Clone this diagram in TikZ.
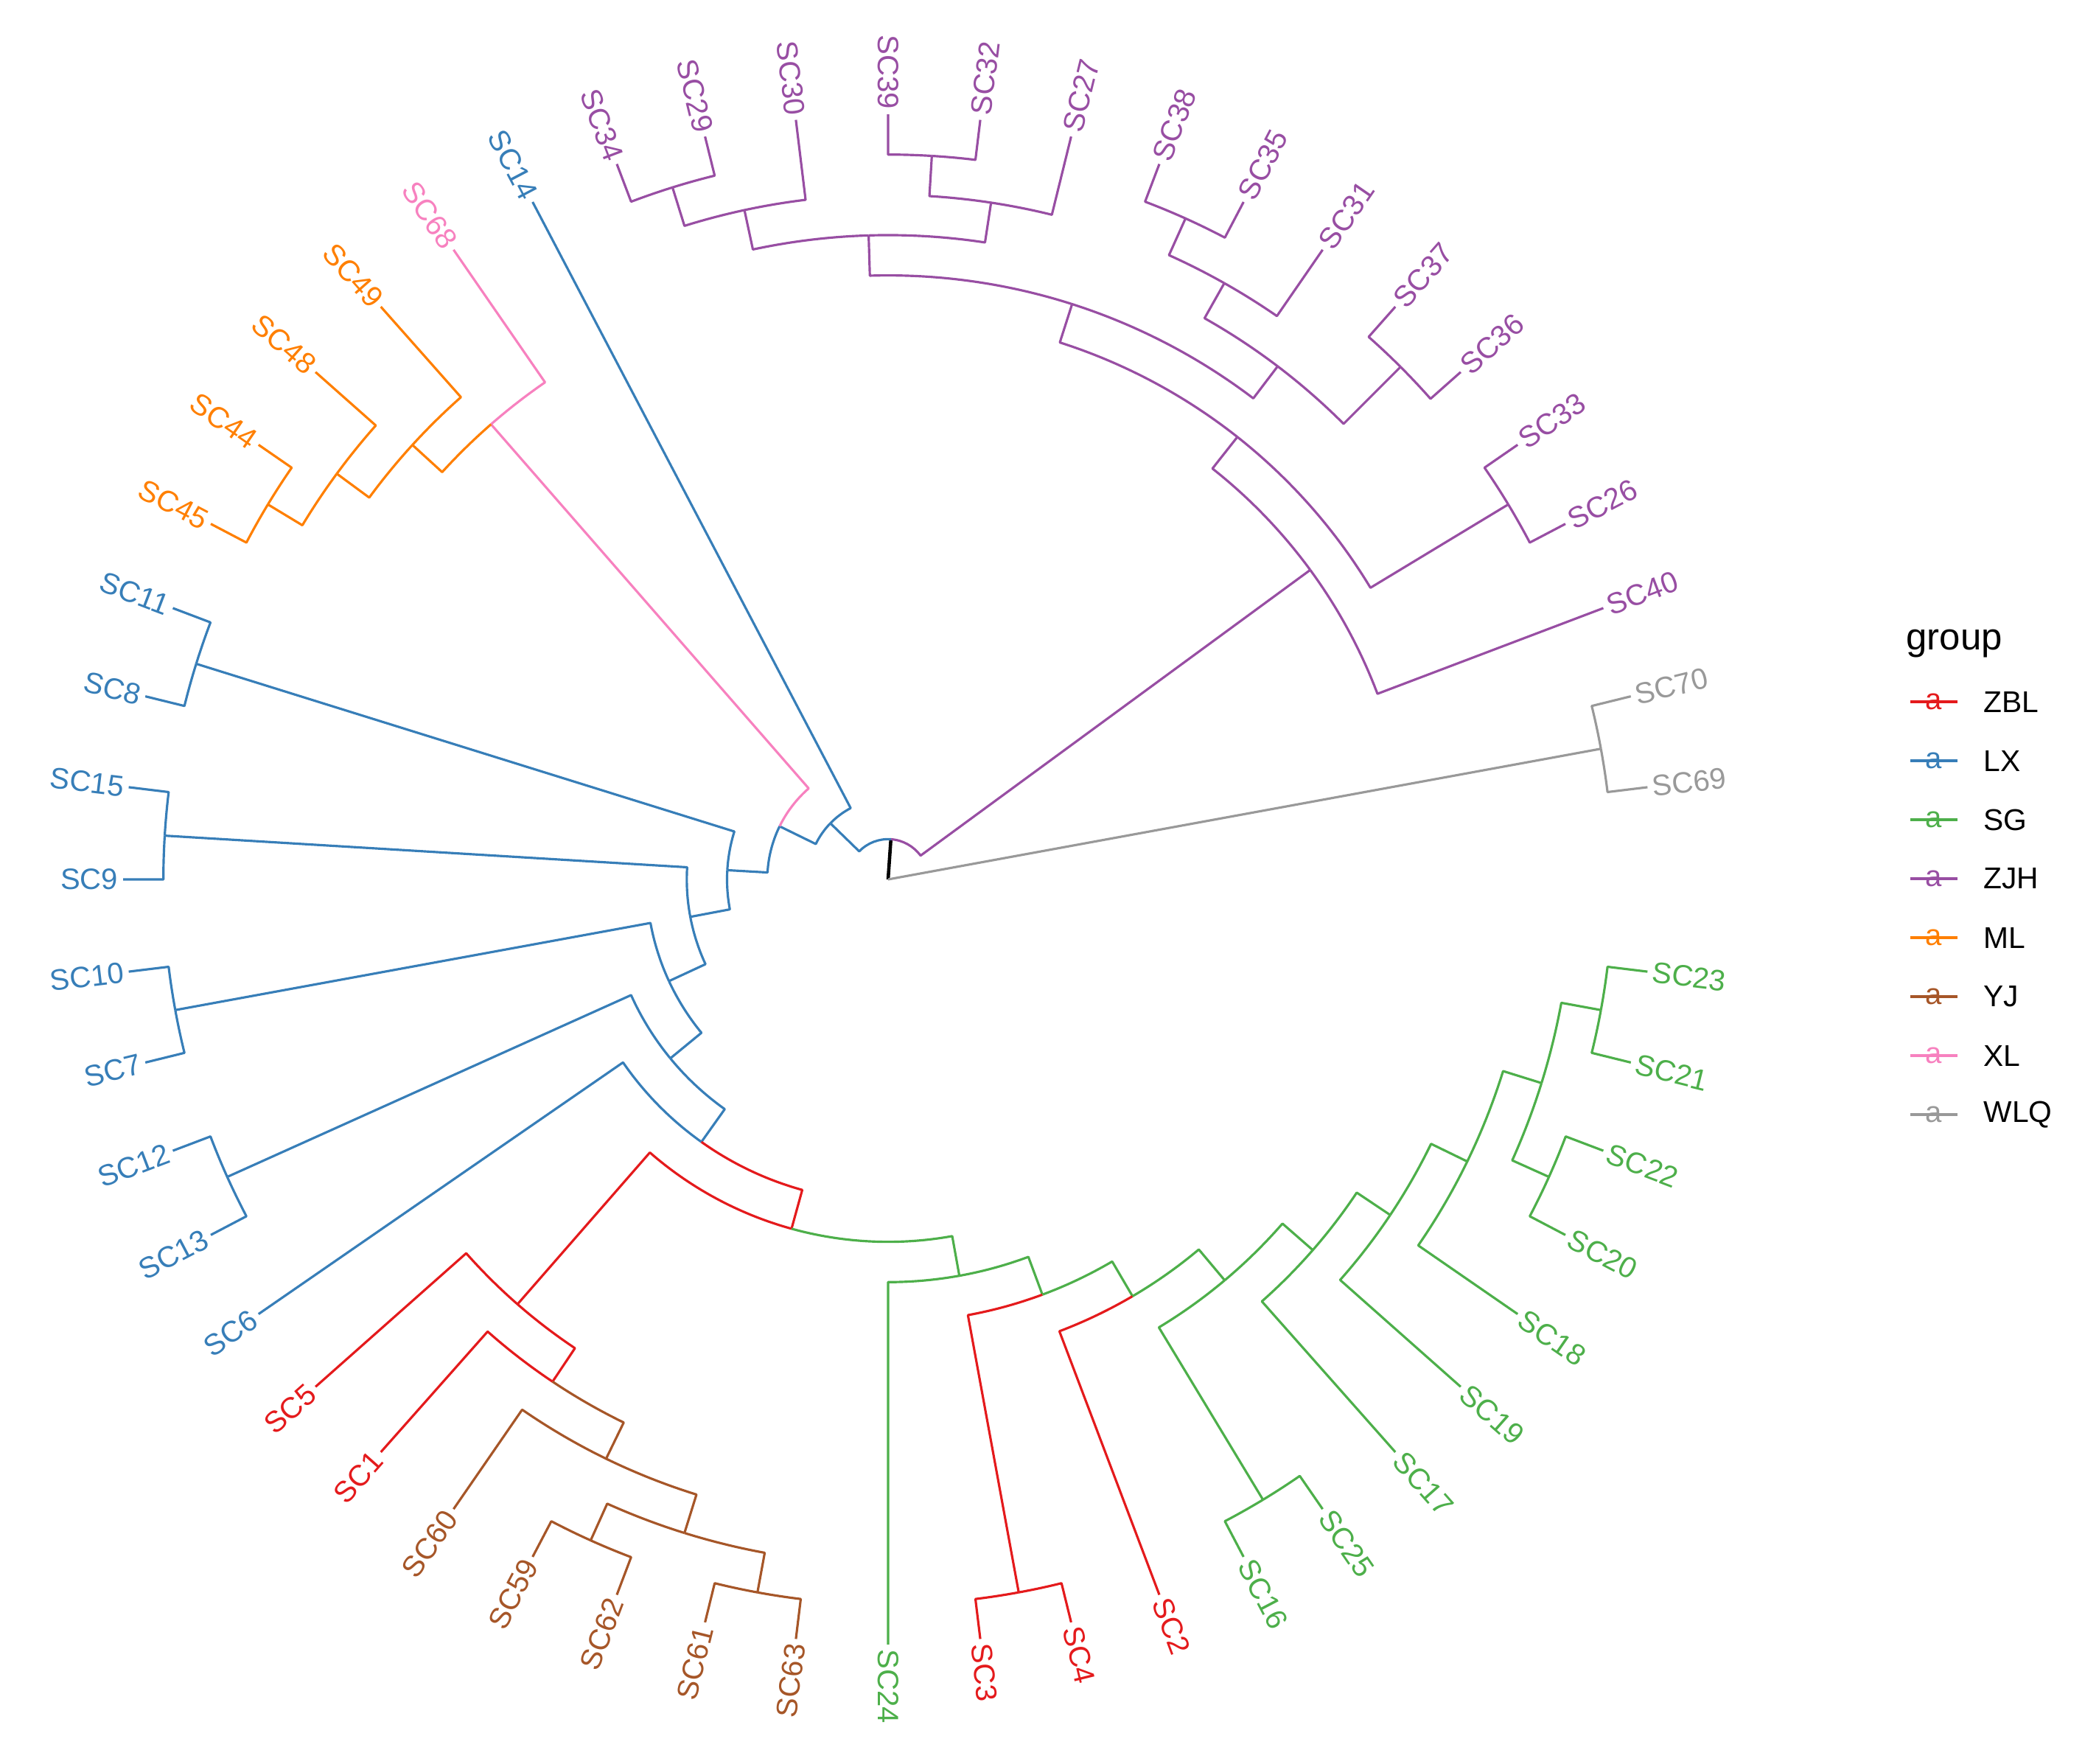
\documentclass[tikz,border=0pt]{standalone}
\usepackage{fontspec}
\setmainfont{Liberation Sans}
\usepackage{tikz}

\definecolor{ZBL}{HTML}{E41A1C}
\definecolor{LX}{HTML}{377EB8}
\definecolor{SG}{HTML}{4DAF4A}
\definecolor{ZJH}{HTML}{984EA3}
\definecolor{ML}{HTML}{FF7F00}
\definecolor{YJ}{HTML}{A65628}
\definecolor{XL}{HTML}{F781BF}
\definecolor{WLQ}{HTML}{999999}

% one tip slot and one tree level
\newcommand{\dang}{6.923077}
\newcommand{\drad}{0.5463}

\newcommand{\tnode}[4]{%
  \coordinate (#1) at ({#2*\dang}:{#3*\drad});%
  \expandafter\xdef\csname tsl#1\endcsname{#2}%
  \expandafter\xdef\csname tlv#1\endcsname{#3}%
  \expandafter\xdef\csname tcl#1\endcsname{#4}}

\newcommand{\tip}[3]{%
  \tnode{#1}{#2}{19}{#3}%
  \pgfmathsetmacro\tang{#2*\dang}%
  \ifnum#2<13
    \node[tiplab, text=#3, rotate=\tang, anchor=west] (l#1) at (#1) {#1};%
  \else\ifnum#2>38
    \node[tiplab, text=#3, rotate=\tang, anchor=west] (l#1) at (#1) {#1};%
  \else
    \pgfmathsetmacro\tang{\tang+180}%
    \node[tiplab, text=#3, rotate=\tang, anchor=east] (l#1) at (#1) {#1};%
  \fi\fi}

\newcommand{\branch}[2]{%
  \edef\bcol{\csname tcl#2\endcsname}%
  \pgfmathsetmacro\bsa{\csname tsl#1\endcsname*\dang}%
  \pgfmathsetmacro\bea{\csname tsl#2\endcsname*\dang}%
  \pgfmathsetmacro\brr{\csname tlv#1\endcsname*\drad}%
  \draw[draw=\bcol] (#1) arc[start angle=\bsa, end angle=\bea, radius=\brr] -- (#2);}

\begin{document}
\begin{tikzpicture}[
    line width=0.9pt,
    line join=round,
    tiplab/.style={inner ysep=0pt, inner xsep=1.5pt, font=\fontsize{11.4}{13}\selectfont},
    keylab/.style={inner sep=0pt, font=\fontsize{11.4}{13}\selectfont},
    legtext/.style={inner sep=0pt, font=\fontsize{11.6}{14}\selectfont},
    legtitle/.style={inner sep=0pt, font=\fontsize{14.5}{17}\selectfont}
  ]
  \useasboundingbox (-12.05,-11.99) rectangle (16.43,11.93);

  \coordinate (root) at (0,0);

  % Tips
  \foreach \nm/\k/\g in {SC69/1/WLQ, SC70/2/WLQ,
      SC40/3/ZJH, SC26/4/ZJH, SC33/5/ZJH, SC36/6/ZJH, SC37/7/ZJH, SC31/8/ZJH,
      SC35/9/ZJH, SC38/10/ZJH, SC27/11/ZJH, SC32/12/ZJH, SC39/13/ZJH,
      SC30/14/ZJH, SC29/15/ZJH, SC34/16/ZJH,
      SC14/17/LX, SC68/18/XL,
      SC49/19/ML, SC48/20/ML, SC44/21/ML, SC45/22/ML,
      SC11/23/LX, SC8/24/LX, SC15/25/LX, SC9/26/LX, SC10/27/LX, SC7/28/LX,
      SC12/29/LX, SC13/30/LX, SC6/31/LX,
      SC5/32/ZBL, SC1/33/ZBL,
      SC60/34/YJ, SC59/35/YJ, SC62/36/YJ, SC61/37/YJ, SC63/38/YJ,
      SC24/39/SG, SC3/40/ZBL, SC4/41/ZBL, SC2/42/ZBL,
      SC16/43/SG, SC25/44/SG, SC17/45/SG, SC19/46/SG, SC18/47/SG,
      SC20/48/SG, SC22/49/SG, SC21/50/SG, SC23/51/SG}
    {\tip{\nm}{\k}{\g}}

  % Inner nodes: name/slot/level/colour
  \foreach \nm/\k/\lv/\g in {a1/12.42487/1/black,
      z0/5.234375/13/ZJH, z1/7.46875/14/ZJH, z2/10.4375/15/ZJH, z3/13.25/16/ZJH,
      z4/14.75/17/ZJH, z5/15.5/18/ZJH, z6/11.75/17/ZJH, z7/12.5/18/ZJH,
      z8/7.625/16/ZJH, z9/8.75/17/ZJH, z10/9.5/18/ZJH, z11/6.5/18/ZJH, z12/4.5/18/ZJH,
      w0/1.5/18/WLQ,
      b0/19.61537/2/LX, b1/22.23074/3/LX, b2/25.52399/4/LX, b3/27.54797/5/LX,
      b4/29.59595/6/LX, b5/31.69189/7/LX, b6/33.88379/8/LX,
      b7/23.5/18/LX, b8/25.5/18/LX, b9/27.5/18/LX, b10/29.5/18/LX,
      x0/18.9375/15/XL, m0/19.875/16/ML, m1/20.75/17/ML, m2/21.5/18/ML,
      r0/36.76758/9/ZBL, r1/33.0625/14/ZBL, r2/34.125/15/ZBL, r3/40.5/18/ZBL,
      y0/35.25/16/YJ, y1/36.5/17/YJ, y2/35.5/18/YJ, y3/37.5/18/YJ,
      g0/40.47266/10/SG, g1/41.94531/11/SG, g2/43.39063/12/SG, g3/44.78125/13/SG,
      g4/46.0625/14/SG, g5/47.125/15/SG, g6/48.25/16/SG, g7/49.5/17/SG,
      g8/43.5/18/SG, g9/48.5/18/SG, g10/50.5/18/SG}
    {\tnode{\nm}{\k}{\lv}{\g}}

  % Edges
  \draw[draw=black, line width=1.3pt] (root) -- (a1);
  \draw[draw=WLQ] (root) -- (w0);
  \foreach \pn/\cn in {w0/SC69, w0/SC70,
      a1/z0, z0/SC40, z0/z1, z1/z12, z1/z2, z12/SC26, z12/SC33,
      z2/z8, z2/z3, z8/z11, z8/z9, z11/SC36, z11/SC37, z9/SC31, z9/z10,
      z10/SC35, z10/SC38, z3/z6, z3/z4, z6/SC27, z6/z7, z7/SC32, z7/SC39,
      z4/SC30, z4/z5, z5/SC29, z5/SC34}
    {\branch{\pn}{\cn}}
  \foreach \pn/\cn in {a1/b0, b0/SC14, b0/b1, b1/x0, b1/b2,
      x0/SC68, x0/m0, m0/SC49, m0/m1, m1/SC48, m1/m2, m2/SC44, m2/SC45,
      b2/b7, b2/b3, b7/SC11, b7/SC8, b3/b8, b3/b4, b8/SC15, b8/SC9,
      b4/b9, b4/b5, b9/SC10, b9/SC7, b5/b10, b5/b6, b10/SC12, b10/SC13,
      b6/SC6, b6/r0}
    {\branch{\pn}{\cn}}
  \foreach \pn/\cn in {r0/r1, r1/SC5, r1/r2, r2/SC1, r2/y0,
      y0/SC60, y0/y1, y1/y2, y1/y3, y2/SC59, y2/SC62, y3/SC61, y3/SC63,
      r0/g0, g0/SC24, g0/g1, g1/r3, g1/g2, r3/SC3, r3/SC4,
      g2/SC2, g2/g3, g3/g8, g3/g4, g8/SC16, g8/SC25,
      g4/SC17, g4/g5, g5/SC19, g5/g6, g6/SC18, g6/g7,
      g7/g9, g7/g10, g9/SC20, g9/SC22, g10/SC21, g10/SC23}
    {\branch{\pn}{\cn}}

  % Legend
  \node[legtitle, anchor=base west] (gtitle) at (13.80,3.12) {group};
  \foreach \g [count=\i from 0] in {ZBL,LX,SG,ZJH,ML,YJ,XL,WLQ}{
    \node[keylab, text=\g] (key\g) at ({14.186},{2.41-0.80*\i}) {a};
    \draw[draw=\g] ([xshift=-0.32cm]key\g.center) -- ([xshift=0.32cm]key\g.center);
    \node[legtext, anchor=west] (leg\g) at ({14.85},{2.41-0.80*\i}) {\g};
  }
\end{tikzpicture}
\end{document}
